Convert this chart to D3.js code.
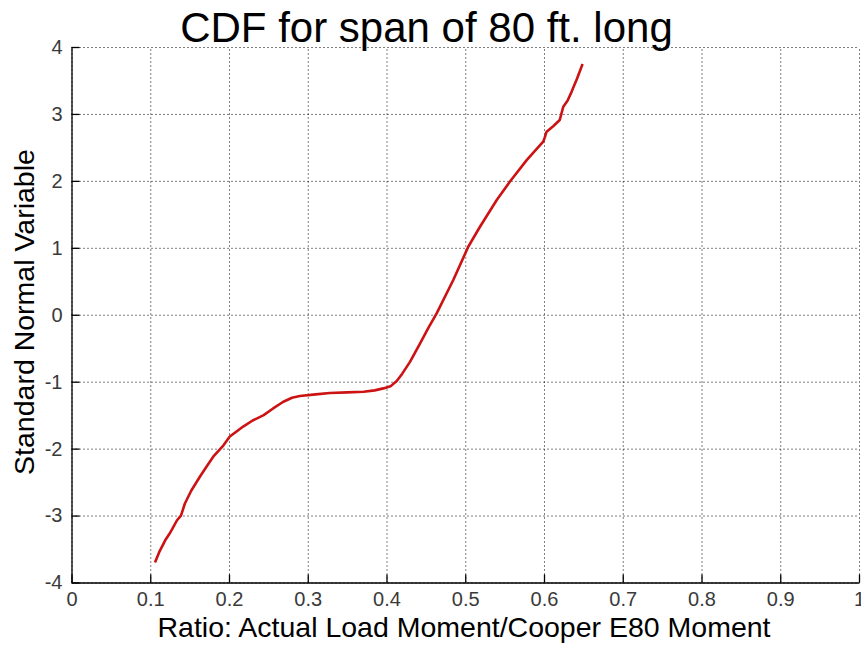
<!DOCTYPE html>
<html>
<head>
<meta charset="utf-8">
<script src="https://cdn.jsdelivr.net/npm/d3@7"></script>
<style>
  html, body { margin: 0; padding: 0; background: #fff; }
  svg { display: block; }
</style>
</head>
<body>
<svg id="chart" width="861" height="646"></svg>
<script>
// ---- data ----
const ratio = [0.106,0.112,0.119,0.124,0.128,0.134,0.139,0.144,0.152,0.163,0.172,0.180,0.193,0.201,0.210,0.218,0.230,0.244,0.256,0.269,0.280,0.290,0.310,0.328,0.350,0.371,0.385,0.396,0.405,0.413,0.420,0.430,0.4425,0.453,0.4637,0.4848,0.5038,0.5187,0.540,0.5568,0.578,0.599,0.601,0.603,0.612,0.620,0.6245,0.630,0.635,0.642,0.649];
const snv   = [-3.70,-3.53,-3.37,-3.28,-3.20,-3.07,-3.00,-2.82,-2.63,-2.42,-2.26,-2.12,-1.95,-1.82,-1.74,-1.67,-1.58,-1.50,-1.40,-1.30,-1.24,-1.214,-1.19,-1.17,-1.16,-1.15,-1.13,-1.10,-1.07,-0.99,-0.88,-0.70,-0.43,-0.20,0.02,0.519,1.016,1.315,1.714,1.99,2.31,2.585,2.65,2.73,2.82,2.91,3.108,3.20,3.33,3.53,3.745];
const xTicks = [0,0.1,0.2,0.3,0.4,0.5,0.6,0.7,0.8,0.9,1];
const xTickLabels = ["0","0.1","0.2","0.3","0.4","0.5","0.6","0.7","0.8","0.9","1"];
const yTicks = [-4,-3,-2,-1,0,1,2,3,4];
const yTickLabels = ["-4","-3","-2","-1","0","1","2","3","4"];
const titleText = "CDF for span of 80 ft. long";
const xLabelText = "Ratio: Actual Load Moment/Cooper E80 Moment";
const yLabelText = "Standard Normal Variable";

// ---- layout ----
const svg = d3.select("#chart");
const pL = 71.5, pR = 859, pT = 47, pB = 582.5;
const x = d3.scaleLinear().domain([0, 1]).range([pL, pR]);
const y = d3.scaleLinear().domain([-4, 4]).range([pB, pT]);
const font = "Arial, 'Liberation Sans', Helvetica, sans-serif";

// grid
const gx = svg.append("g").attr("transform", `translate(0,${pB})`)
  .call(d3.axisBottom(x).tickValues(xTicks).tickSize(-(pB - pT)).tickFormat(""));
gx.select(".domain").remove();
gx.selectAll("line").attr("stroke", "#000").attr("stroke-width", 1).attr("stroke-dasharray", "1,3");

const gy = svg.append("g").attr("transform", `translate(${pL},0)`)
  .call(d3.axisLeft(y).tickValues(yTicks).tickSize(-(pR - pL)).tickFormat(""));
gy.select(".domain").remove();
gy.selectAll("line").attr("stroke", "#000").attr("stroke-width", 1).attr("stroke-dasharray", "1,3");

// axes
const ax = svg.append("g").attr("transform", `translate(0,${pB})`)
  .call(d3.axisBottom(x).tickValues(xTicks).tickSizeInner(-8).tickSizeOuter(0).tickPadding(9)
    .tickFormat((d, i) => xTickLabels[i]));
ax.select(".domain").attr("stroke", "#000").attr("stroke-width", 1.3);
ax.selectAll(".tick line").attr("stroke", "#000").attr("stroke-width", 1.3);
ax.selectAll("text").attr("font-family", font).attr("font-size", 20).attr("fill", "#3a3a3a");

const ay = svg.append("g").attr("transform", `translate(${pL},0)`)
  .call(d3.axisLeft(y).tickValues(yTicks).tickSizeInner(-8).tickSizeOuter(0).tickPadding(9)
    .tickFormat((d, i) => yTickLabels[i]));
ay.select(".domain").attr("stroke", "#000").attr("stroke-width", 1.3);
ay.selectAll(".tick line").attr("stroke", "#000").attr("stroke-width", 1.3);
ay.selectAll("text").attr("font-family", font).attr("font-size", 20).attr("fill", "#3a3a3a");

// curve
const pts = ratio.map((r, i) => [r, snv[i]]);
svg.append("path")
  .datum(pts)
  .attr("fill", "none")
  .attr("stroke", "#cc1212")
  .attr("stroke-width", 2.6)
  .attr("stroke-linejoin", "round")
  .attr("d", d3.line().x(d => x(d[0])).y(d => y(d[1])).curve(d3.curveLinear));

// texts
svg.append("text").attr("x", 426.5).attr("y", 42).attr("text-anchor", "middle")
  .attr("font-family", font).attr("font-size", 42).attr("fill", "#000").text(titleText);
svg.append("text").attr("x", 464).attr("y", 637).attr("text-anchor", "middle")
  .attr("font-family", font).attr("font-size", 28.5).attr("fill", "#000").text(xLabelText);
svg.append("text").attr("transform", `translate(34,312) rotate(-90)`)
  .attr("text-anchor", "middle")
  .attr("font-family", font).attr("font-size", 28.5).attr("fill", "#000").text(yLabelText);
</script>
</body>
</html>
